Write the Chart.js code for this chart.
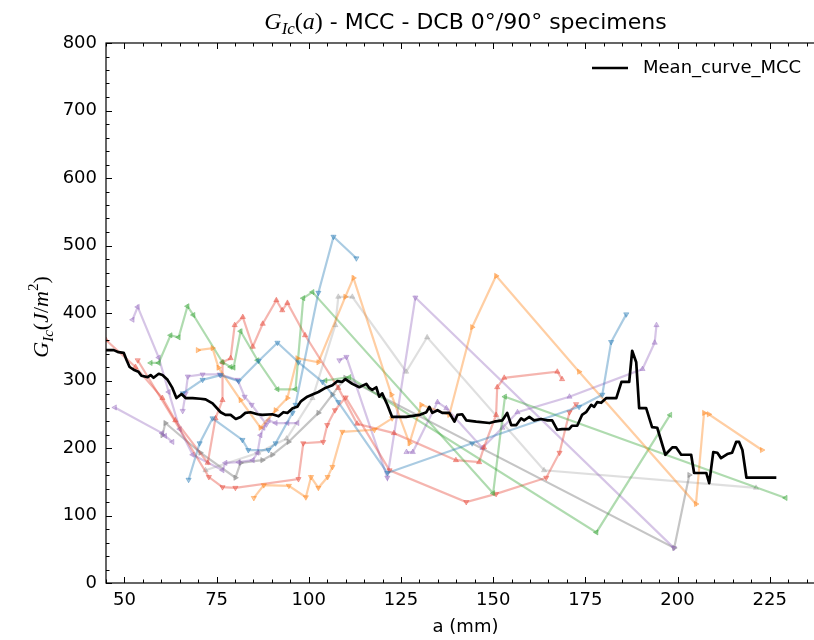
<!DOCTYPE html>
<html>
<head>
<meta charset="utf-8">
<script src="https://cdn.jsdelivr.net/npm/chart.js@4.4.0/dist/chart.umd.min.js"></script>
<style>
  html, body { margin: 0; padding: 0; background: #fff; overflow: hidden; }
  #wrap { width: 814px; height: 640px; overflow: hidden; }
  canvas { display: block; }
</style>
</head>
<body>
<div id="wrap"><canvas id="myChart" width="830" height="640"></canvas></div>
<script>
// 軸の範囲と目盛
var xMin = 45, xMax = 240;
var yMin = 0, yMax = 800;
var xTicks = [50, 75, 100, 125, 150, 175, 200, 225];
var yTicks = [0, 100, 200, 300, 400, 500, 600, 700, 800];

// 平均曲線 (Mean_curve_MCC)
var meanA = [45, 47.1, 48.4, 49.8, 50.6, 51.4, 52.5, 53.8, 54.6, 56.3, 57.1, 57.9, 59.3, 60.3, 61.7, 63.0, 64.1, 65.5, 66.6, 68.5,
  70.6, 72.0, 73.9, 76.1, 77.4, 78.8, 80.2, 81.5, 82.8, 84.2, 86.1, 87.4, 90.1, 91.8, 93.1, 94.2, 95.6, 96.9, 97.7, 98.3,
  99.6, 101.3, 102.6, 104.5, 106.4, 107.7, 109.1, 109.9, 111.8, 113.7, 115.6, 116.4, 117.2, 118.3, 119.1, 119.9, 121.3, 122.6, 126.4, 130.0,
  131.9, 132.7, 133.5, 134.9, 136.2, 138.1, 139.5, 140.3, 141.6, 142.7, 145.4, 149.0, 150.3, 152.5, 153.8, 154.9, 156.3, 157.6, 158.4, 159.8,
  161.1, 163.0, 164.7, 166.0, 167.4, 168.7, 170.6, 171.4, 172.8, 174.1, 175.2, 176.6, 177.4, 178.2, 179.3, 180.7, 183.4, 184.8, 186.9, 187.7,
  188.8, 189.6, 191.5, 193.1, 194.5, 196.7, 198.6, 199.6, 201.0, 203.7, 204.5, 207.8, 208.6, 209.7, 210.8, 211.8, 213.5, 214.8, 215.9, 216.7,
  217.6, 218.7, 226.8];
var meanG = [345, 345, 342, 341, 330, 320, 316, 313, 307, 305, 308, 304, 310, 308, 301, 289, 274, 280, 274, 274,
  273, 272, 266, 253, 249, 249, 243, 246, 252, 253, 250, 249, 250, 247, 253, 252, 259, 261, 268, 271,
  276, 280, 283, 289, 293, 299, 298, 302, 295, 290, 295, 289, 286, 290, 276, 281, 264, 246, 246, 249,
  253, 261, 252, 256, 252, 252, 239, 249, 250, 241, 239, 237, 239, 241, 252, 234, 234, 244, 241, 246,
  241, 243, 241, 241, 227, 228, 228, 233, 233, 249, 253, 264, 261, 268, 267, 274, 274, 298, 298, 344,
  327, 259, 259, 231, 230, 190, 201, 201, 190, 190, 163, 163, 148, 194, 193, 185, 191, 193, 209, 209,
  197, 156, 156];

// 各試験片の曲線
var blue1A = [65.8, 71.2, 76.1, 81.0, 86.4, 91.5, 97.2, 103.7, 108.0, 121.3, 144.3, 173.3, 179.6, 182.0, 186.1];
var blue1G = [281, 301, 308, 299, 329, 356, 327, 298, 268, 163, 207, 261, 279, 357, 398];
var blue2A = [67.4, 70.4, 73.9, 82.0, 83.6, 89.1, 91.0, 95.6, 96.4, 102.6, 106.7, 112.9];
var blue2G = [153, 207, 244, 212, 197, 197, 207, 252, 264, 430, 513, 481];
var orange1A = [69.9, 73.9, 75.5, 81.5, 86.9, 91.0, 94.2, 96.9, 102.6, 109.9, 112.1, 122.4, 127.3, 130.5, 138.1, 144.3, 150.8, 173.3, 205.0, 207.2, 208.5, 222.9];
var orange1G = [345, 348, 319, 271, 230, 256, 274, 333, 327, 424, 452, 279, 207, 264, 249, 379, 455, 313, 117, 252, 250, 197];
var orange2A = [85.1, 87.8, 94.6, 99.2, 100.6, 102.6, 105.1, 106.4, 109.1, 117.8, 122.6];
var orange2G = [126, 145, 144, 127, 157, 141, 157, 172, 224, 227, 244];
var green1A = [57.1, 59.3, 62.5, 64.7, 67.1, 68.7, 76.6, 78.8, 79.6, 81.5, 86.1, 91.5, 96.4, 98.5, 101.0, 150.0, 153.2, 229.3];
var green1G = [326, 326, 367, 364, 410, 397, 327, 320, 319, 373, 330, 287, 287, 422, 431, 133, 276, 126];
var green2A = [104.5, 111.0, 178.0, 198.0];
var green2G = [300, 305, 75, 249];
var red1A = [45, 53, 60.3, 63.8, 72.6, 74.7, 76.6, 76.6, 78.8, 79.9, 82.1, 84.8, 87.5, 91.2, 92.8, 94.2, 99.0, 108.0, 113.1, 123.1, 139.9, 146.2, 147.5, 150.8, 151.1, 153.0, 167.4, 168.7];
var red1G = [360, 320, 274, 241, 178, 244, 271, 327, 333, 382, 394, 350, 384, 419, 404, 415, 367, 289, 236, 222, 182, 179, 201, 249, 290, 304, 313, 302];
var red2A = [53.6, 72.9, 76.6, 80.1, 97.2, 98.5, 103.9, 105.0, 107.1, 110.0, 121.9, 142.7, 150.8, 164.4, 168.0, 170.7, 172.5];
var red2G = [330, 157, 142, 141, 154, 207, 209, 234, 256, 275, 167, 120, 132, 156, 193, 253, 265];
var purple1A = [52.2, 53.6, 59.3, 62.0, 65.0, 68.5, 76.6, 77.4, 81.0, 84.8, 86.1, 86.9, 87.7, 89.1, 91.0, 94.2, 96.9];
var purple1G = [390, 409, 334, 283, 228, 190, 167, 178, 179, 182, 193, 219, 230, 241, 237, 237, 237];
var purple2A = [47.4, 60.2, 61.0, 63.0];
var purple2G = [260, 222, 218, 209];
var purple3A = [65.8, 66.6, 67.2, 71.2, 75.8, 80.7, 82.6, 84.5, 88.5];
var purple3G = [255, 281, 306, 309, 309, 301, 276, 264, 235];
var purple4A = [108.3, 110.2, 121.3, 128.9, 199.0];
var purple4G = [330, 335, 156, 423, 52];
var purple5A = [126.5, 128.2, 134.9, 137.3, 147.1, 152.5, 156.6, 170.7, 190.5, 193.8, 194.3];
var purple5G = [194, 194, 268, 259, 200, 230, 253, 276, 317, 356, 382];
var gray1A = [60.3, 61.1, 70.6, 80.1, 81.5, 87.4, 90.1, 94.5, 102.6, 106.4, 109.9, 199.1, 203.2];
var gray1G = [219, 237, 193, 156, 178, 182, 190, 209, 252, 279, 304, 52, 160];
var gray2A = [72.0, 86.3, 94.0, 101.0, 107.2, 108.0, 111.8, 126.4, 132.1, 163.8, 221.3];
var gray2G = [167, 193, 214, 274, 382, 424, 424, 313, 364, 167, 141];

// 試験片ごとの色とマーカー向き
var specimens = [
  { a: blue1A, g: blue1G, rgb: '31,119,180', alpha: 0.38, rot: 180 },
  { a: blue2A, g: blue2G, rgb: '31,119,180', alpha: 0.38, rot: 180 },
  { a: orange1A, g: orange1G, rgb: '255,127,14', alpha: 0.38, rot: 90 },
  { a: orange2A, g: orange2G, rgb: '255,127,14', alpha: 0.38, rot: 180 },
  { a: green1A, g: green1G, rgb: '44,160,44', alpha: 0.38, rot: 270 },
  { a: green2A, g: green2G, rgb: '44,160,44', alpha: 0.38, rot: 270 },
  { a: red1A, g: red1G, rgb: '228,60,45', alpha: 0.38, rot: 0 },
  { a: red2A, g: red2G, rgb: '228,60,45', alpha: 0.38, rot: 180 },
  { a: purple1A, g: purple1G, rgb: '148,103,189', alpha: 0.38, rot: 270 },
  { a: purple2A, g: purple2G, rgb: '148,103,189', alpha: 0.38, rot: 270 },
  { a: purple3A, g: purple3G, rgb: '148,103,189', alpha: 0.38, rot: 180 },
  { a: purple4A, g: purple4G, rgb: '148,103,189', alpha: 0.38, rot: 180 },
  { a: purple5A, g: purple5G, rgb: '148,103,189', alpha: 0.38, rot: 0 },
  { a: gray1A, g: gray1G, rgb: '127,127,127', alpha: 0.45, rot: 90 },
  { a: gray2A, g: gray2G, rgb: '127,127,127', alpha: 0.25, rot: 0 }
];

function zip(a, g) {
  return a.map(function (v, i) { return { x: v, y: g[i] }; });
}

var sans = '"DejaVu Sans", sans-serif';
var serifIt = 'italic {s}px "Liberation Serif", serif';
var serifUp = '{s}px "Liberation Serif", serif';
function sf(tpl, s) { return tpl.replace('{s}', s); }

// 複数フォントの文字列を横に並べて描く
function drawRuns(ctx, runs, x, y) {
  var w = 0;
  runs.forEach(function (r) { ctx.font = r[1]; w += ctx.measureText(r[0]).width; });
  var cx = x - w / 2;
  runs.forEach(function (r) {
    ctx.font = r[1];
    ctx.fillText(r[0], cx, y + (r[2] || 0));
    cx += ctx.measureText(r[0]).width;
  });
}

function seg(ctx, x1, y1, x2, y2) {
  ctx.beginPath(); ctx.moveTo(x1, y1); ctx.lineTo(x2, y2); ctx.stroke();
}

// 枠・内向き目盛・ラベル・凡例
var axesDeco = {
  id: 'axesDeco',
  afterDraw: function (chart) {
    var ctx = chart.ctx, ca = chart.chartArea;
    var x = chart.scales.x, y = chart.scales.y;
    ctx.save();
    ctx.strokeStyle = '#000';
    ctx.fillStyle = '#000';
    ctx.lineWidth = 1.2;
    ctx.strokeRect(ca.left, ca.top, ca.right - ca.left, ca.bottom - ca.top);

    ctx.lineWidth = 1;
    for (var v = xMin; v <= xMax; v += 5) {
      var px = Math.round(x.getPixelForValue(v)) + 0.5;
      var len = xTicks.indexOf(v) >= 0 ? 6 : 3.5;
      seg(ctx, px, ca.bottom, px, ca.bottom - len);
      seg(ctx, px, ca.top, px, ca.top + len);
    }
    for (var w = yMin; w <= yMax; w += 20) {
      var py = Math.round(y.getPixelForValue(w)) + 0.5;
      var len2 = yTicks.indexOf(w) >= 0 ? 6 : 3.5;
      seg(ctx, ca.left, py, ca.left + len2, py);
      seg(ctx, ca.right, py, ca.right - len2, py);
    }

    ctx.font = '18px ' + sans;
    ctx.textAlign = 'center';
    ctx.textBaseline = 'top';
    xTicks.forEach(function (t) { ctx.fillText(String(t), x.getPixelForValue(t), ca.bottom + 8); });
    ctx.textAlign = 'right';
    ctx.textBaseline = 'middle';
    yTicks.forEach(function (t) { ctx.fillText(String(t), ca.left - 9, y.getPixelForValue(t)); });

    // x軸ラベル
    ctx.textAlign = 'center';
    ctx.textBaseline = 'alphabetic';
    ctx.font = '18px ' + sans;
    ctx.fillText('a (mm)', (ca.left + ca.right) / 2, 632);

    // タイトル
    ctx.textAlign = 'left';
    drawRuns(ctx, [
      ['G', sf(serifIt, 24)],
      ['Ic', sf(serifIt, 17), 5],
      ['(', sf(serifUp, 24)],
      ['a', sf(serifIt, 24)],
      [')', sf(serifUp, 24)],
      [' - MCC - DCB 0°/90° specimens', '22px ' + sans]
    ], (ca.left + ca.right) / 2, 29);

    // y軸ラベル
    ctx.save();
    ctx.translate(48, (ca.top + ca.bottom) / 2 + 4);
    ctx.rotate(-Math.PI / 2);
    drawRuns(ctx, [
      ['G', sf(serifIt, 22)],
      ['Ic', sf(serifIt, 15), 5],
      ['(', sf(serifUp, 22)],
      ['J', sf(serifIt, 22)],
      ['/', sf(serifUp, 22)],
      ['m', sf(serifIt, 22)],
      ['2', sf(serifUp, 15), -10],
      [')', sf(serifUp, 22)]
    ], 0, 0);
    ctx.restore();

    // 凡例
    ctx.lineWidth = 2.3;
    seg(ctx, 592, 68, 628, 68);
    ctx.font = '18px ' + sans;
    ctx.textBaseline = 'middle';
    ctx.textAlign = 'left';
    ctx.fillText('Mean_curve_MCC', 643, 68);
    ctx.restore();
  }
};

var datasets = [{
  label: 'Mean_curve_MCC',
  data: zip(meanA, meanG),
  borderColor: '#000',
  borderWidth: 2.7,
  borderJoinStyle: 'round',
  pointRadius: 0,
  tension: 0
}];
specimens.forEach(function (s) {
  var c = 'rgba(' + s.rgb + ',' + s.alpha + ')';
  datasets.push({
    data: zip(s.a, s.g),
    borderColor: c,
    backgroundColor: c,
    borderWidth: 2.2,
    pointStyle: 'triangle',
    pointRotation: s.rot,
    pointRadius: 3,
    pointBorderWidth: 1,
    tension: 0
  });
});

var ctx = document.getElementById('myChart').getContext('2d');
var myChart = new Chart(ctx, {
  type: 'line',
  data: { datasets: datasets },
  options: {
    responsive: false,
    animation: false,
    devicePixelRatio: 1,
    layout: { padding: { left: 106, right: 4, top: 43, bottom: 57 } },
    scales: {
      x: { type: 'linear', min: xMin, max: xMax, display: false },
      y: { type: 'linear', min: yMin, max: yMax, display: false }
    },
    plugins: {
      legend: { display: false },
      title: { display: false },
      tooltip: { enabled: false }
    }
  },
  plugins: [axesDeco]
});
</script>
</body>
</html>
